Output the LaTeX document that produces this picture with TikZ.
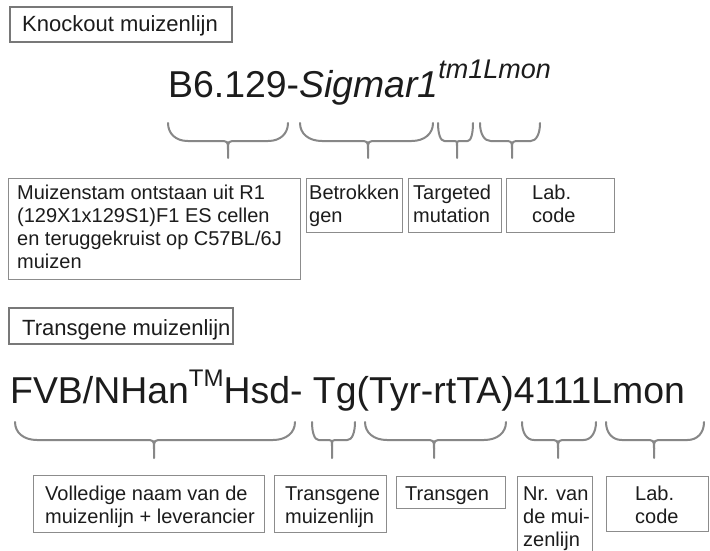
\documentclass[tikz,border=0pt]{standalone}
\usepackage{fontspec}
\setmainfont{Liberation Sans}
\definecolor{inkc}{RGB}{28,28,28}
\definecolor{framec}{RGB}{140,140,140}
\definecolor{titlec}{RGB}{120,120,120}
\definecolor{bracec}{RGB}{135,135,135}

% curly brace under a span: left x, right x, tip x, top y, middle y, tip y
\newcommand\curlybrace[6]{%
  \pgfmathsetmacro\brR{min(22,0.33*(#3-#1))}%
  \pgfmathsetmacro\brS{min(22,0.33*(#2-#3))}%
  \pgfmathsetmacro\brC{min(9,0.3*min(#3-#1,#2-#3))}%
  \draw[bracestroke]
    (#1,#4) .. controls (#1,{#4+0.6*(#5-#4)}) and ({#1+0.4*\brR},#5) .. ({#1+\brR},#5)
    -- ({#3-\brC},#5) .. controls (#3,#5) .. (#3,{#5+\brC}) -- (#3,#6);
  \draw[bracestroke]
    (#2,#4) .. controls (#2,{#4+0.6*(#5-#4)}) and ({#2-0.4*\brS},#5) .. ({#2-\brS},#5)
    -- ({#3+\brC},#5) .. controls (#3,#5) .. (#3,{#5+\brC});
}
\newcommand\stacklines[1]{\begin{tabular}[t]{@{}l@{}}#1\end{tabular}}

\begin{document}
\begin{tikzpicture}[x=1pt,y=-1pt,
  bracestroke/.style={draw=bracec,line width=2pt,line cap=round,line join=round},
  titlebox/.style={draw=titlec,line width=2pt,fill=white,anchor=north west,inner sep=0pt},
  labelbox/.style={draw=framec,line width=1.4pt,fill=white,anchor=north west,inner sep=0pt},
  titletext/.style={anchor=base west,inner sep=0pt,text=inkc,font=\fontsize{22}{25}\selectfont},
  labeltext/.style={anchor=base west,inner sep=0pt,text=inkc,font=\fontsize{20}{23.3}\selectfont},
  formula/.style={anchor=base west,inner sep=0pt,text=inkc,font=\fontsize{37.4}{40}\selectfont}]

\fill[white] (0,0) rectangle (710,551);
\useasboundingbox (0,0) rectangle (710,551);

% ---------- knockout line ----------
\node[titlebox,minimum width=222pt,minimum height=35pt] (kotitle) at (9,6) {};
\node[titletext] (kotitletxt) at (22,32) {Knockout muizenlijn};

\node[formula] (koname) at (168,98)
  {B6.129-\textit{Sigmar1}\raisebox{20pt}{\fontsize{27}{27}\selectfont\textit{tm1Lmon}}};

\curlybrace{168}{288}{228}{123}{141}{158}
\curlybrace{300}{433}{368}{123}{141}{158}
\curlybrace{438}{473}{457}{123}{141}{158}
\curlybrace{480}{540}{512}{123}{141}{158}

\node[labelbox,minimum width=292pt,minimum height=101pt] (kostrain) at (8,178) {};
\node[labelbox,minimum width=96pt,minimum height=54pt] (kogene) at (306,178) {};
\node[labelbox,minimum width=93pt,minimum height=54pt] (komut) at (408,178) {};
\node[labelbox,minimum width=108pt,minimum height=54pt] (kolab) at (506,178) {};

\node[labeltext] (kostraintxt) at (17,199)
  {\stacklines{Muizenstam ontstaan uit R1\\(129X1x129S1)F1 ES cellen\\en teruggekruist op C57BL/6J\\muizen}};
\node[labeltext] (kogenetxt) at (309,199) {\stacklines{Betrokken\\gen}};
\node[labeltext] (komuttxt) at (413,199) {\stacklines{Targeted\\mutation}};
\node[labeltext] (kolabtxt) at (532,199) {\stacklines{Lab.\\code}};

% ---------- transgenic line ----------
\node[titlebox,minimum width=224pt,minimum height=36pt] (tgtitle) at (8,307) {};
\node[titletext] (tgtitletxt) at (22,335) {Transgene muizenlijn};

\node[formula] (tgname) at (10,403)
  {FVB/NHan\raisebox{16.5pt}{\fontsize{24}{24}\selectfont TM}Hsd- Tg(Tyr-rtTA)4111Lmon};

\curlybrace{15}{295}{154}{422}{440}{458}
\curlybrace{312}{355}{332}{422}{440}{458}
\curlybrace{365}{506}{434}{422}{440}{458}
\curlybrace{522}{596}{558}{422}{440}{458}
\curlybrace{606}{704}{654}{422}{440}{458}

\node[labelbox,minimum width=231pt,minimum height=57pt] (tgstrain) at (33,475) {};
\node[labelbox,minimum width=112pt,minimum height=57pt] (tgline) at (274,475) {};
\node[labelbox,minimum width=109pt,minimum height=32pt] (tggene) at (396,476) {};
\node[labelbox,minimum width=75pt,minimum height=90pt] (tgnr) at (517,476) {};
\node[labelbox,minimum width=102pt,minimum height=55pt] (tglab) at (606,476) {};

\node[labeltext] (tgstraintxt) at (45,500)
  {\stacklines{Volledige naam van de\\muizenlijn + leverancier}};
\node[labeltext] (tglinetxt) at (285,500) {\stacklines{Transgene\\muizenlijn}};
\node[labeltext] (tggenetxt) at (405,500) {Transgen};
\node[labeltext] (tgnrtxt) at (523,500) {\stacklines{Nr. van\\de mui-\\zenlijn}};
\node[labeltext] (tglabtxt) at (635,500) {\stacklines{Lab.\\code}};

\end{tikzpicture}
\end{document}
